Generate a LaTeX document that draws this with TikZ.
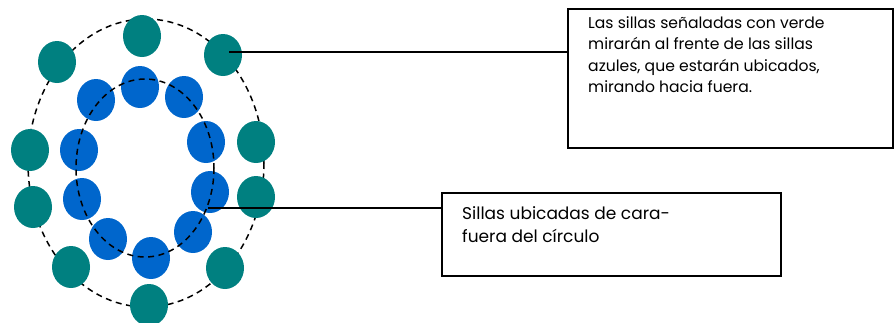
\documentclass[tikz,border=0pt]{standalone}
\usepackage{fontspec}
\setmainfont{Poppins}
\usetikzlibrary{shapes.geometric}
\definecolor{seatgreen}{RGB}{0,128,128}
\definecolor{seatblue}{RGB}{0,102,204}
\begin{document}
\begin{tikzpicture}[x=1pt,y=-1pt,
  green seat/.style={ellipse,fill=seatgreen,minimum width=38pt,minimum height=42pt,inner sep=0pt},
  blue seat/.style={ellipse,fill=seatblue,minimum width=38pt,minimum height=42pt,inner sep=0pt},
  ring/.style={draw,line width=1.5pt,dash pattern=on 6pt off 4.5pt},
  note/.style={draw,line width=1.5pt,anchor=north west,inner sep=0pt},
  lead/.style={line width=1.5pt}]
\useasboundingbox (0,0) rectangle (895,322);
% outer ring
\draw[ring] (146,163) ellipse [x radius=118, y radius=144];
% green seats
\foreach \n/\x/\y in {g1/57/62,g2/142/36,g3/223/55,g4/256/142,g5/256/197,g6/225/268,g7/149/305,g8/71/267,g9/33/207,g10/30/150}
  \node[green seat] (\n) at (\x,\y) {};
% blue seats
\foreach \n/\x/\y in {b1/96/100,b2/140/87,b3/184/97,b4/206/142,b5/210/192,b6/193/232,b7/151/258,b8/108/239,b9/82/199,b10/79/150}
  \node[blue seat] (\n) at (\x,\y) {};
% inner ring
\draw[ring] (145,168) ellipse [x radius=69, y radius=89];
% note boxes
\node[note,minimum width=325pt,minimum height=139pt] (n1) at (567,8) {};
\node[note,minimum width=339pt,minimum height=83pt] (n2) at (441,192) {};
\node[anchor=north west,align=left,font=\fontsize{15.6}{21.6}\selectfont,inner sep=0pt] (t1) at (588,16)
  {Las sillas señaladas con verde\\mirarán al frente de las sillas\\azules, que estarán ubicados,\\mirando hacia fuera.};
\node[anchor=north west,align=left,font=\fontsize{17}{23.5}\selectfont,inner sep=0pt] (t2) at (462,206)
  {Sillas ubicadas de cara-\\fuera del círculo};
% leaders
\coordinate (c1) at (229,52);
\coordinate (c2) at (208,208);
\draw[lead] (c1) -- (c1 -| n1.west);
\draw[lead] (c2) -- (c2 -| n2.west);
\end{tikzpicture}
\end{document}
